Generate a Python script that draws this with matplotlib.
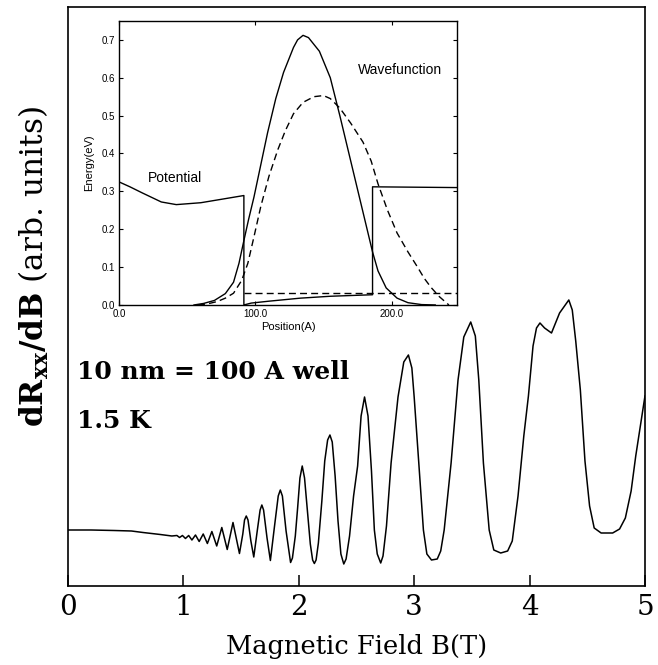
import numpy as np
import matplotlib.pyplot as plt

plt.rcParams['mathtext.fontset'] = 'dejavuserif'

# main trace: dRxx/dB vs B (arb. units)
b_field = [0.00, 0.20, 0.40, 0.55, 0.65, 0.80, 0.90,
           0.944, 0.967, 0.992, 1.018, 1.046, 1.074, 1.105, 1.137, 1.172, 1.208, 1.247, 1.289, 1.333, 1.38, 1.43, 1.486,
           1.515, 1.53, 1.545, 1.56, 1.585, 1.61,
           1.64, 1.665, 1.68, 1.695, 1.725, 1.754,
           1.79, 1.822, 1.84, 1.858, 1.89, 1.929,
           1.945, 1.97, 1.99, 2.01, 2.03, 2.05, 2.075, 2.10, 2.12, 2.135, 2.15,
           2.17, 2.20, 2.225, 2.25, 2.27, 2.29, 2.315, 2.34, 2.365, 2.39, 2.41,
           2.44, 2.475, 2.51, 2.54, 2.57, 2.60, 2.63, 2.655, 2.68, 2.71, 2.73,
           2.76, 2.80, 2.86, 2.91, 2.95, 2.98, 3.00, 3.04, 3.08, 3.11, 3.15, 3.20, 3.23,
           3.26, 3.32, 3.38, 3.43, 3.49, 3.53, 3.56, 3.60, 3.65, 3.69, 3.75, 3.81, 3.85,
           3.90, 3.95, 3.99, 4.03, 4.06, 4.09, 4.13, 4.19, 4.26, 4.34, 4.37, 4.40, 4.44, 4.48,
           4.52, 4.56, 4.62, 4.72, 4.78, 4.83, 4.88, 4.92, 4.96, 5.00]
dr_db = [56, 56, 55.5, 55, 53.5, 51.5, 50,
         50.5, 48.5, 50.5, 47.5, 50.5, 46, 51, 44.5, 52, 42.5, 54.5, 40, 58.5, 36.5, 63.5, 32.5,
         52, 66, 70, 66, 45, 29,
         55, 76, 81, 76, 48, 25.5,
         60, 90, 96, 90, 55, 23.5,
         28, 50, 78, 108, 120, 108, 75, 42, 26, 22.5, 26,
         43, 85, 125, 146, 151, 144, 110, 65, 32, 22, 27,
         50, 90, 120, 170, 189, 170, 115, 56, 32, 23, 30,
         60, 123, 189, 224, 231, 218, 189, 123, 56, 32, 26, 27, 35,
         56, 123, 206, 249, 264, 250, 206, 123, 56, 36, 33, 35, 45,
         90, 150, 190, 240, 258, 263, 258, 253, 273, 286, 276, 245, 196, 125,
         80, 58, 53, 53, 57, 68, 95, 130, 160, 190]

# inset: potential profile and wavefunctions
pot_x = [0, 8, 17, 31, 42, 60, 75, 91.6, 91.6, 97, 110, 133, 155, 186, 186, 248]
pot_y = [0.325, 0.312, 0.296, 0.272, 0.265, 0.270, 0.279, 0.289, 0.0, 0.005, 0.010, 0.018, 0.023, 0.027, 0.312, 0.310]

wf1_x = [55, 62, 70, 78, 84, 88, 91.6, 95, 99, 104, 109, 115, 120.7, 128, 131, 135, 139, 147, 155,
         162, 170, 178, 186, 190, 196, 204, 212, 222, 232]
wf1_y = [0.0, 0.004, 0.012, 0.03, 0.06, 0.11, 0.17, 0.225, 0.285, 0.37, 0.455, 0.545, 0.614, 0.68, 0.70, 0.712, 0.706, 0.67, 0.60,
         0.50, 0.38, 0.26, 0.14, 0.09, 0.045, 0.018, 0.006, 0.001, 0.0]

wf2_x = [58, 65, 72, 78, 84, 90, 94.5, 99, 104, 110, 116.5, 122, 128, 135, 143, 150, 155, 162, 170,
         179, 185, 190, 197, 204, 212, 219, 224, 229, 235, 242]
wf2_y = [0.0, 0.003, 0.009, 0.018, 0.031, 0.065, 0.11, 0.18, 0.26, 0.34, 0.41, 0.46, 0.505, 0.535, 0.55, 0.553, 0.545, 0.52, 0.48,
         0.43, 0.38, 0.32, 0.25, 0.19, 0.14, 0.10, 0.07, 0.046, 0.022, 0.0]

level_x = [92, 248]
level_y = [0.032, 0.032]

fig = plt.figure(figsize=(6.58, 6.65), dpi=100)
ax = fig.add_axes([0.1033, 0.1188, 0.8769, 0.8707])
ax.plot(b_field, dr_db, color='black', lw=1.1)
ax.set_xlim(0, 5)
ax.set_ylim(0, 579)
ax.set_xticks([0, 1, 2, 3, 4, 5])
ax.set_yticks([])
ax.tick_params(axis='x', direction='in', length=8, width=1.1, pad=6, labelsize=20)
for lab in ax.get_xticklabels():
    lab.set_family('DejaVu Serif')
for s in ax.spines.values():
    s.set_linewidth(1.2)
ax.set_xlabel('Magnetic Field B(T)', family='DejaVu Serif', fontsize=18.5, labelpad=9)
ax.set_ylabel(r'$\mathbf{dR_{xx}/dB}$ (arb. units)', family='DejaVu Serif', fontsize=22.5)
ax.yaxis.set_label_coords(-0.03, 0.552)

ax.text(0.08, 214, '10 nm = 100 A well', family='DejaVu Serif', fontsize=18,
        fontweight='bold', va='center', ha='left')
ax.text(0.08, 165, '1.5 K', family='DejaVu Serif', fontsize=18,
        fontweight='bold', va='center', ha='left')

# inset
ins = fig.add_axes([0.1809, 0.5414, 0.5137, 0.4271])
ins.plot(pot_x, pot_y, color='black', lw=1.0)
ins.plot(wf1_x, wf1_y, color='black', lw=1.0)
ins.plot(wf2_x, wf2_y, color='black', lw=1.0, dashes=(5, 3))
ins.plot(level_x, level_y, color='black', lw=1.0, dashes=(5, 3))
ins.set_xlim(0, 248)
ins.set_ylim(0, 0.75)
ins.set_xticks([0, 100, 200])
ins.set_xticklabels(['0.0', '100.0', '200.0'])
ins.set_yticks(np.arange(0, 0.71, 0.1))
ins.set_yticklabels(['%.1f' % v for v in np.arange(0, 0.71, 0.1)])
ins.tick_params(direction='in', length=3, width=0.8, top=True, right=True,
                labelsize=7, pad=3)
for lab in ins.get_xticklabels() + ins.get_yticklabels():
    lab.set_family('Liberation Sans')
for s in ins.spines.values():
    s.set_linewidth(1.0)
ins.set_xlabel('Position(A)', family='Liberation Sans', fontsize=8, labelpad=2)
ins.set_ylabel('Energy(eV)', family='Liberation Sans', fontsize=8, labelpad=5)
ins.text(41, 0.335, 'Potential', family='Liberation Sans', fontsize=10,
         ha='center', va='center')
ins.text(206, 0.62, 'Wavefunction', family='Liberation Sans', fontsize=10,
         ha='center', va='center')

fig.savefig('out.png', dpi=100)
